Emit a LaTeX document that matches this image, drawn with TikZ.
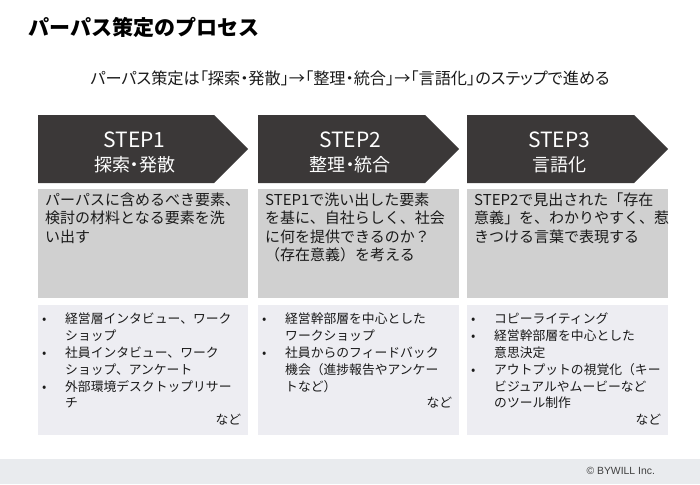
\documentclass[tikz,border=0pt]{standalone}
\usepackage{fontspec}
\setmainfont{Noto Sans CJK JP}
\newfontfamily\paltfont{Noto Sans CJK JP}[RawFeature=+palt]
\newfontfamily\copyfont{Liberation Sans}
\usetikzlibrary{positioning}

\definecolor{stepcolor}{RGB}{59,56,56}
\definecolor{desccolor}{RGB}{208,208,208}
\definecolor{listcolor}{RGB}{237,237,242}
\definecolor{footcolor}{RGB}{233,235,238}
\definecolor{inkcolor}{RGB}{26,26,26}

\begin{document}
\begin{tikzpicture}[x=1pt, y=-1pt,
    descbox/.style={fill=desccolor, minimum height=109, inner sep=0, outer sep=0, anchor=north west},
    listbox/.style={fill=listcolor, minimum height=130, inner sep=0, outer sep=0, anchor=north west},
    steptext/.style={text=white, align=center, font=\paltfont\fontsize{18}{24}\selectfont, inner sep=0},
    desctext/.style={text=inkcolor, align=left, font=\fontsize{15}{18.5}\selectfont, inner sep=0},
    listtext/.style={text=inkcolor, font=\fontsize{12.8}{16.8}\selectfont, inner sep=0}]

    \useasboundingbox (0,0) rectangle (700,484);

    % ==========================================
    % --- Heading ---
    % ==========================================
    \node[anchor=west, font=\fontsize{21}{25}\selectfont\bfseries] (title) at (25,27) {パーパス策定のプロセス};
    \node[text=inkcolor, font=\paltfont\fontsize{16.2}{19}\selectfont] (subtitle) at (350,78)
        {パーパス策定は「探索・発散」→「整理・統合」→「言語化」のステップで進める};

    % ==========================================
    % --- Steps: chevron, description and list boxes ---
    % ==========================================
    \foreach \x/\w/\n in {38/210/1, 258/201/2, 467/201/3} {
        % Chevron
        \fill[stepcolor] (\x,115) -- ++({\w-34},0) -- ++(34,34) -- ++(-34,34) -- ++({34-\w},0) -- cycle;
        \coordinate (chev\n) at ({\x+(\w-17)/2},152);

        % Boxes below
        \node[descbox, minimum width=\w] (desc\n) at (\x,189) {};
        \node[listbox, minimum width=\w] (list\n) at (\x,305) {};
    }

    % Chevron labels
    \node[steptext] (step1) at (chev1) {{\fontsize{21}{24}\selectfont STEP1}\\探索・発散};
    \node[steptext] (step2) at (chev2) {{\fontsize{21}{24}\selectfont STEP2}\\整理・統合};
    \node[steptext] (step3) at (chev3) {{\fontsize{21}{24}\selectfont STEP3}\\言語化};

    % Descriptions
    \node[desctext, below right=3.5pt and 7pt of desc1.north west] (desctext1)
        {パーパスに含めるべき要素、\\検討の材料となる要素を洗\\い出す};
    \node[desctext, below right=3.5pt and 7pt of desc2.north west] (desctext2)
        {STEP1で洗い出した要素\\を基に、自社らしく、社会\\に何を提供できるのか？\\（存在意義）を考える};
    \node[desctext, below right=3.5pt and 7pt of desc3.north west] (desctext3)
        {STEP2で見出された「存在\\意義」を、わかりやすく、惹\\きつける言葉で表現する};

    % Bullet lists
    \node[listtext, below right=7pt and 4pt of list1.north west] (listtext1) {%
        \begin{tabular}{@{}p{23pt}@{}p{176pt}@{}}
            • & 経営層インタビュー、ワーク\\
              & ショップ\\
            • & 社員インタビュー、ワーク\\
              & ショップ、アンケート\\
            • & 外部環境デスクトップリサー\\
              & チ\\
            \multicolumn{2}{@{}r@{}}{など}
        \end{tabular}};
    \node[listtext, below right=7pt and 4pt of list2.north west] (listtext2) {%
        \begin{tabular}{@{}p{23pt}@{}p{167pt}@{}}
            • & 経営幹部層を中心とした\\
              & ワークショップ\\
            • & 社員からのフィードバック\\
              & 機会（進捗報告やアンケー\\
              & トなど）\\
            \multicolumn{2}{@{}r@{}}{など}
        \end{tabular}};
    \node[listtext, below right=7pt and 4pt of list3.north west] (listtext3) {%
        \begin{tabular}{@{}p{23pt}@{}p{167pt}@{}}
            • & コピーライティング\\
            • & 経営幹部層を中心とした\\
              & 意思決定\\
            • & アウトプットの視覚化（キー\\
              & ビジュアルやムービーなど\\
              & のツール制作\\
            \multicolumn{2}{@{}r@{}}{など}
        \end{tabular}};

    % ==========================================
    % --- Footer ---
    % ==========================================
    \fill[footcolor] (0,459) rectangle (700,484);
    \node[anchor=west, text=black!75, font=\copyfont\fontsize{10.4}{12}\selectfont] (copyright) at (583,471) {© BYWILL Inc.};

\end{tikzpicture}
\end{document}
